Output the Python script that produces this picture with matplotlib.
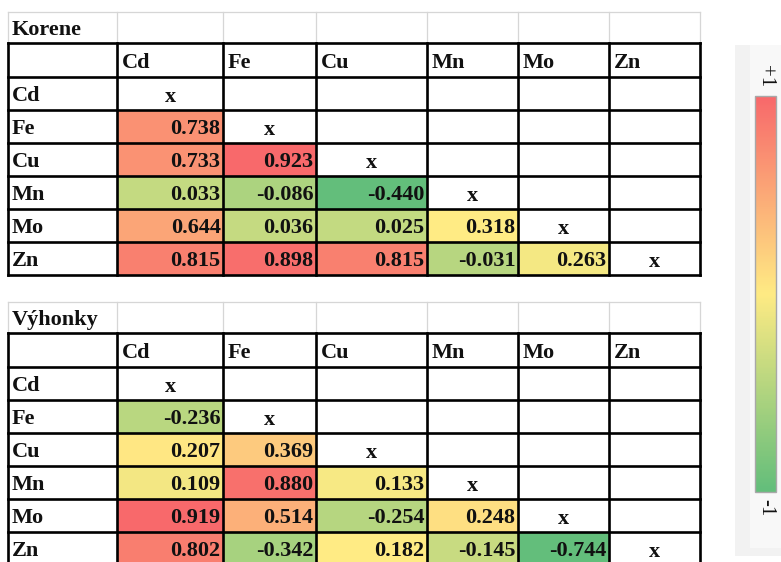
import matplotlib.pyplot as plt
import numpy as np
from matplotlib.patches import Rectangle
from matplotlib.colors import LinearSegmentedColormap

# element names (rows and columns of both matrices)
elements = ["Cd", "Fe", "Cu", "Mn", "Mo", "Zn"]

# lower triangle of the correlation matrices, row by row (row i has i values)
korene = [
    [],
    [0.738],
    [0.733, 0.923],
    [0.033, -0.086, -0.440],
    [0.644, 0.036, 0.025, 0.318],
    [0.815, 0.898, 0.815, -0.031, 0.263],
]
vyhonky = [
    [],
    [-0.236],
    [0.207, 0.369],
    [0.109, 0.880, 0.133],
    [0.919, 0.514, -0.254, 0.248],
    [0.802, -0.342, 0.182, -0.145, -0.744],
]
titles = ["Korene", "Výhonky"]

# Excel style 3 colour scale: min green, median yellow, max red
c_low = np.array([0x63, 0xBE, 0x7B]) / 255
c_mid = np.array([0xFF, 0xEB, 0x84]) / 255
c_high = np.array([0xF8, 0x69, 0x6B]) / 255


def scale_color(v, vals):
    lo, mid, hi = np.min(vals), np.median(vals), np.max(vals)
    if v <= mid:
        t = (v - lo) / (mid - lo)
        return c_low + (c_mid - c_low) * t
    t = (v - mid) / (hi - mid)
    return c_mid + (c_high - c_mid) * t


# layout in pixels
col_x = [8, 117, 223, 316, 427, 518, 609, 700]
table_top = [12, 302]
title_h = 31
head_h = 34
row_h = 33
lw_black = 1.9
font = dict(family="Liberation Serif", fontweight="bold", fontsize=16, color="#111111")

fig = plt.figure(figsize=(7.81, 5.62), dpi=100)
ax = fig.add_axes([0, 0, 1, 1])
ax.set_xlim(0, 781)
ax.set_ylim(562, 0)
ax.axis("off")

for k, data in enumerate([korene, vyhonky]):
    top = table_top[k]
    vals = np.array([v for row in data for v in row])

    # title row, light excel gridlines
    y0, y1 = top, top + title_h
    for x in col_x:
        ax.plot([x, x], [y0, y1], color="#D6D6D6", lw=0.9)
    ax.plot([col_x[0], col_x[-1]], [y0, y0], color="#D6D6D6", lw=0.9)
    ax.text(col_x[0] + 4, y1 - 8, titles[k], ha="left", va="baseline", **font)

    # header row
    h0 = y1
    h1 = h0 + head_h
    for j, name in enumerate(elements):
        ax.text(col_x[j + 1] + 5, h1 - 9, name, ha="left", va="baseline", **font)

    # body
    for i, name in enumerate(elements):
        r0 = h1 + i * row_h
        r1 = r0 + row_h
        ax.text(col_x[0] + 4, r1 - 9, name, ha="left", va="baseline", **font)
        for j, v in enumerate(data[i]):
            ax.add_patch(Rectangle((col_x[j + 1], r0), col_x[j + 2] - col_x[j + 1], row_h,
                                   facecolor=scale_color(v, vals), edgecolor="none", zorder=1))
            ax.text(col_x[j + 2] - 2.5, r1 - 9, f"{v:.3f}", ha="right", va="baseline", zorder=3, **font)
        ax.text((col_x[i + 1] + col_x[i + 2]) / 2, r1 - 8, "x", ha="center", va="baseline", zorder=3, **font)

    # black borders
    bottom = h1 + len(elements) * row_h
    ys = [h0, h1] + [h1 + (i + 1) * row_h for i in range(len(elements))]
    for y in ys:
        ax.plot([col_x[0], col_x[-1]], [y, y], color="black", lw=lw_black, zorder=2,
                solid_capstyle="projecting")
    for x in col_x:
        ax.plot([x, x], [h0, bottom], color="black", lw=lw_black, zorder=2,
                solid_capstyle="projecting")

# colour scale legend panel
ax.add_patch(Rectangle((735, 45), 46, 511, facecolor="#F2F2F2", edgecolor="none", zorder=0))
ax.add_patch(Rectangle((750, 45), 31, 503, facecolor="#F8F8F8", edgecolor="none", zorder=0))
cmap = LinearSegmentedColormap.from_list("xl", [c_low, c_mid, c_high])
grad = np.linspace(1, -1, 200).reshape(-1, 1)
ax.imshow(grad, cmap=cmap, vmin=-1, vmax=1, aspect="auto",
          extent=[755, 776, 492, 96], zorder=1)
ax.add_patch(Rectangle((755, 96), 21, 396, facecolor="none", edgecolor="#A8A8A8", lw=1.0, zorder=2))
ax.set_xlim(0, 781)
ax.set_ylim(562, 0)
lab = dict(family="Liberation Serif", fontsize=15, color="#111111", rotation=-90,
           ha="center", va="center")
ax.text(766, 76, "+1", **lab)
ax.text(766, 508, "-1", **lab)

fig.savefig("out.png", dpi=100)
